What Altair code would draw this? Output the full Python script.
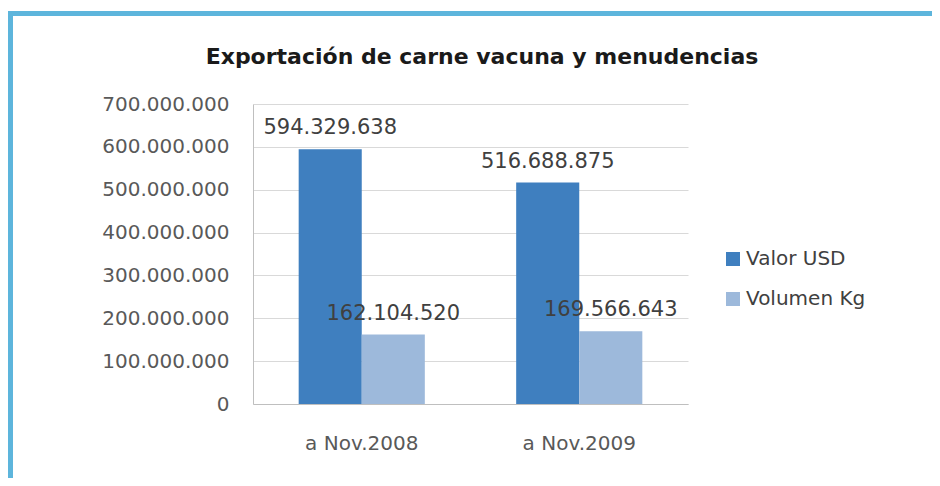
import altair as alt
import pandas as pd

# ---- data ----
title_text = "Exportación de carne vacuna y menudencias"
categories = ["a Nov.2008", "a Nov.2009"]
series = ["Valor USD", "Volumen Kg"]
valor_usd = [594329638, 516688875]
volumen_kg = [162104520, 169566643]
y_ticks = [0, 100000000, 200000000, 300000000, 400000000, 500000000, 600000000, 700000000]
colors = ["#3F7FBF", "#9DB9DB"]

rows = []
for i, c in enumerate(categories):
    rows.append({"periodo": c, "serie": series[0], "valor": valor_usd[i]})
    rows.append({"periodo": c, "serie": series[1], "valor": volumen_kg[i]})
df = pd.DataFrame(rows)

FONT = "DejaVu Sans"

x = alt.X(
    "periodo:N", sort=categories, title=None,
    scale=alt.Scale(paddingInner=0.42, paddingOuter=0.21),
    axis=alt.Axis(labelAngle=0, labelFont=FONT, labelFontSize=20, labelColor="#595959",
                  labelPadding=29, ticks=False, domainColor="#BFBFBF", grid=False),
)
xo = alt.XOffset("serie:N", sort=series, scale=alt.Scale(paddingInner=0, paddingOuter=0))
y = alt.Y(
    "valor:Q", title=None,
    scale=alt.Scale(domain=[0, 700000000]),
    axis=alt.Axis(values=y_ticks, format=",d", labelFont=FONT, labelFontSize=20,
                  labelColor="#595959", labelPadding=24, ticks=False,
                  domainColor="#BFBFBF", gridColor="#D9D9D9"),
)
color = alt.Color(
    "serie:N", sort=series,
    scale=alt.Scale(domain=series, range=colors),
    legend=alt.Legend(title=None, orient="none", legendX=470, legendY=145, padding=0,
                      symbolType="square", symbolSize=196, symbolStrokeWidth=0,
                      labelFont=FONT, labelFontSize=20, labelColor="#404040",
                      rowPadding=20, labelOffset=3),
)

base = alt.Chart(df)
bars = base.mark_bar().encode(x=x, xOffset=xo, y=y, color=color)
labels = base.mark_text(dy=-21, baseline="middle", font=FONT, fontSize=21, color="#404040").encode(
    x=x, xOffset=xo, y=y, text=alt.Text("valor:Q", format=",d")
)

title_mark = alt.Chart(alt.Data(values=[{"t": title_text}])).mark_text(
    font=FONT, fontWeight="bold", fontSize=22, color="#1A1A1A",
    align="center", baseline="alphabetic",
).encode(x=alt.value(229), y=alt.value(-40), text="t:N")

frame_data = alt.Data(values=[{}])
frame_top = alt.Chart(frame_data).mark_rule(color="#5DB5DC", strokeWidth=5).encode(
    x=alt.value(-245), x2=alt.value(679), y=alt.value(-90.5)
)
frame_left = alt.Chart(frame_data).mark_rule(color="#5DB5DC", strokeWidth=5).encode(
    x=alt.value(-242.5), y=alt.value(-93), y2=alt.value(374)
)

chart = alt.layer(bars, labels, title_mark, frame_top, frame_left).properties(
    width=435, height=300,
    padding={"left": 245, "top": 96, "right": 244, "bottom": 74},
    autosize=alt.AutoSizeParams(type="none"),
).configure(
    locale={"number": {"decimal": ",", "thousands": ".", "grouping": [3], "currency": ["$", ""]}},
    background="white",
).configure_view(strokeWidth=0)

chart.save("out.html", embed_options={"renderer": "svg", "actions": False})
